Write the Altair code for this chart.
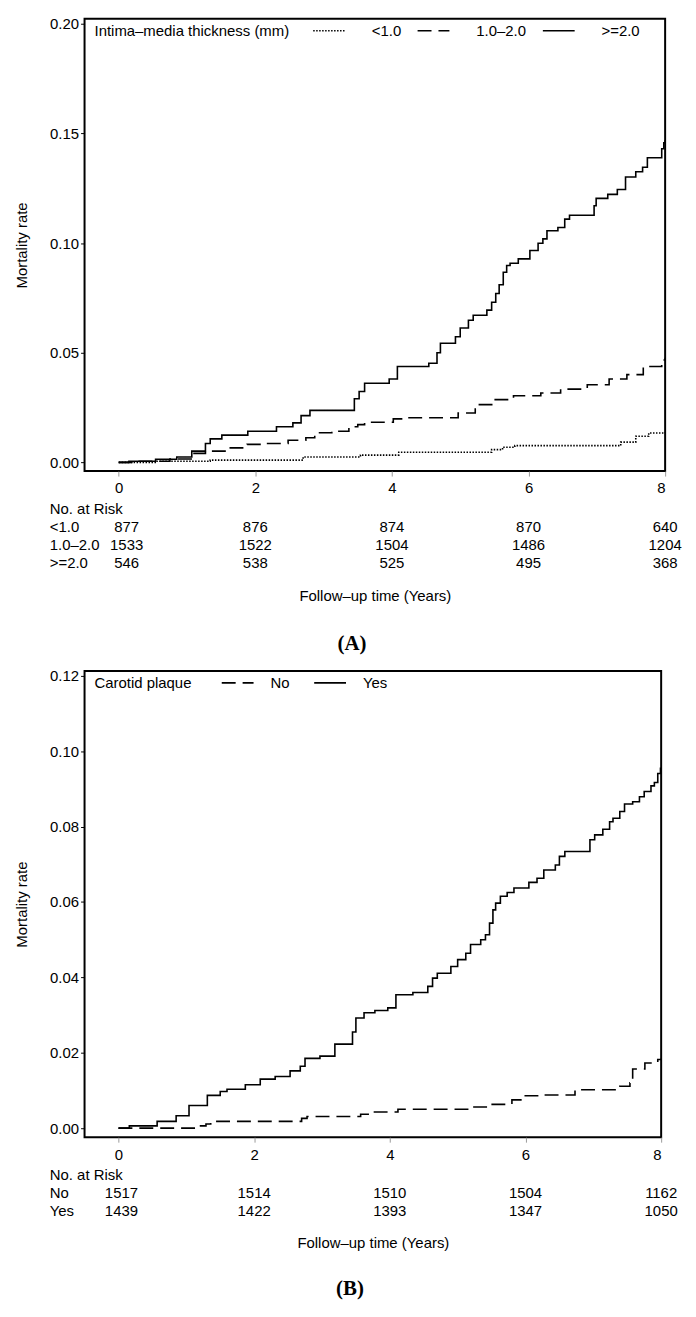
import altair as alt
import pandas as pd

FONT = "Liberation Sans"

# ---------------- Panel A: intima-media thickness ----------------
low_t = [0, 0.56, 1.34, 2.70, 3.54, 4.10, 5.46, 5.62, 5.80, 7.35, 7.57, 7.76, 8.00]
low_v = [0, 0.0005, 0.0010, 0.0024, 0.0033, 0.0046, 0.0058, 0.0069, 0.0076, 0.0092, 0.0119, 0.0134, 0.0136]

mid_t = [0, 0.30, 0.75, 1.09, 1.27, 1.58, 1.88, 2.18, 2.48, 2.74, 2.87, 3.12, 3.37, 3.50, 3.60,
         4.02, 4.20, 4.97, 5.22, 5.48, 5.78, 6.18, 6.47, 6.86, 7.18, 7.44, 7.68, 7.95, 8.00]
mid_v = [0, 0.0005, 0.0015, 0.0041, 0.0051, 0.0066, 0.0082, 0.0086, 0.0101, 0.0112, 0.0135, 0.0142,
         0.0162, 0.0172, 0.0183, 0.0198, 0.0203, 0.0225, 0.0263, 0.0286, 0.0304, 0.0316, 0.0334,
         0.0354, 0.0380, 0.0400, 0.0437, 0.0467, 0.0477]

ge2_t = [0, 0.15, 0.54, 0.85, 1.07, 1.27, 1.34, 1.51, 1.89, 2.31, 2.55, 2.67, 2.80, 3.45, 3.52,
         3.60, 3.96, 4.08, 4.54, 4.66, 4.71, 4.93, 5.00, 5.12, 5.19, 5.39, 5.46, 5.52, 5.57, 5.63,
         5.68, 5.73, 5.85, 6.02, 6.14, 6.21, 6.27, 6.43, 6.53, 6.60, 6.96, 6.99, 7.16, 7.30, 7.42,
         7.57, 7.67, 7.74, 7.95, 7.98, 8.00]
ge2_v = [0, 0.0005, 0.0014, 0.0024, 0.0051, 0.0086, 0.0107, 0.0124, 0.0142, 0.0162, 0.0180, 0.0213,
         0.0237, 0.0290, 0.0323, 0.0361, 0.0380, 0.0437, 0.0452, 0.0500, 0.0543, 0.0573, 0.0613,
         0.0648, 0.0671, 0.0694, 0.0730, 0.0770, 0.0810, 0.0867, 0.0898, 0.0908, 0.0928, 0.0966,
         0.0999, 0.1019, 0.1056, 0.1071, 0.1109, 0.1127, 0.1170, 0.1204, 0.1222, 0.1244, 0.1301,
         0.1325, 0.1346, 0.1389, 0.1430, 0.1457, 0.1470]

groups_a = ["<1.0", "1.0–2.0", ">=2.0"]
risk_a = [[877, 876, 874, 870, 640],
          [1533, 1522, 1504, 1486, 1204],
          [546, 538, 525, 495, 368]]
yticks_a = [0.00, 0.05, 0.10, 0.15, 0.20]

# ---------------- Panel B: carotid plaque ----------------
no_t = [0, 1.21, 1.29, 1.36, 2.70, 2.78, 3.57, 3.72, 4.12, 5.17, 5.48, 5.80, 5.97, 6.20, 6.73,
        7.39, 7.54, 7.58, 7.76, 7.95, 8.00]
no_v = [0, 0.0006, 0.0011, 0.0018, 0.0026, 0.0031, 0.0037, 0.0043, 0.0050, 0.0056, 0.0063,
        0.0075, 0.0086, 0.0088, 0.0102, 0.0111, 0.0120, 0.0157, 0.0173, 0.0182, 0.0185]

yes_t = [0, 0.16, 0.57, 0.85, 1.04, 1.31, 1.50, 1.60, 1.87, 2.09, 2.31, 2.53, 2.68, 2.75, 2.97,
         3.19, 3.45, 3.50, 3.62, 3.78, 3.97, 4.09, 4.34, 4.56, 4.63, 4.70, 4.90, 5.00, 5.12, 5.19,
         5.34, 5.41, 5.47, 5.52, 5.56, 5.63, 5.73, 5.83, 6.05, 6.17, 6.27, 6.44, 6.50, 6.58, 6.95,
         7.02, 7.14, 7.24, 7.29, 7.39, 7.46, 7.58, 7.68, 7.75, 7.85, 7.90, 7.95, 7.99, 8.00]
yes_v = [0, 0.0006, 0.0018, 0.0033, 0.0060, 0.0087, 0.0097, 0.0103, 0.0115, 0.0130, 0.0137,
         0.0152, 0.0164, 0.0185, 0.0191, 0.0223, 0.0255, 0.0292, 0.0306, 0.0312, 0.0319, 0.0354,
         0.0360, 0.0376, 0.0398, 0.0411, 0.0429, 0.0447, 0.0464, 0.0487, 0.0500, 0.0513, 0.0544,
         0.0579, 0.0597, 0.0615, 0.0625, 0.0637, 0.0652, 0.0663, 0.0685, 0.0698, 0.0721, 0.0734,
         0.0765, 0.0778, 0.0793, 0.0813, 0.0822, 0.0840, 0.0860, 0.0866, 0.0879, 0.0893, 0.0908,
         0.0917, 0.0941, 0.0955, 0.0955]

groups_b = ["No", "Yes"]
risk_b = [[1517, 1514, 1510, 1504, 1162],
          [1439, 1422, 1393, 1347, 1050]]
yticks_b = [0.00, 0.02, 0.04, 0.06, 0.08, 0.10, 0.12]

risk_times = [0, 2, 4, 6, 8]

DOT = [1.5, 1.5]
DASH = [14, 7]
SOLID = [1, 0]


def txt(**kw):
    base = dict(fontSize=15, font=FONT, color="black", baseline="middle")
    base.update(kw)
    return base


def panel(curves, field, legend_title, dashes, legend_x, label_offset, col_pad, risk, width,
          height, ydom, yticks, dx0, title_pad, tag, tag_offset):
    names = [c[0] for c in curves]
    recs = []
    for name, ts, vs in curves:
        for t, v in zip(ts, vs):
            recs.append({"t": t, "v": v, field: name})
    df = pd.DataFrame(recs)

    x = alt.X("t:Q",
              scale=alt.Scale(domain=[-0.5, 8], nice=False, zero=False),
              axis=alt.Axis(values=risk_times, title="Follow–up time (Years)",
                            titlePadding=title_pad, tickSize=5, tickColor="#9a9a9a",
                            tickWidth=1, labelPadding=5, domain=False, grid=False,
                            labelFontSize=15, titleFontSize=15, titleFontWeight="normal",
                            labelColor="black", titleColor="black", labelFont=FONT,
                            titleFont=FONT))
    y = alt.Y("v:Q",
              scale=alt.Scale(domain=ydom, nice=False, zero=False),
              axis=alt.Axis(values=yticks, format=".2f", title="Mortality rate",
                            titlePadding=20, tickSize=4, tickColor="black", tickWidth=1,
                            labelPadding=2, domain=False, grid=False, labelFontSize=15,
                            titleFontSize=15, titleFontWeight="normal", labelColor="black",
                            titleColor="black", labelFont=FONT, titleFont=FONT))

    lines = alt.Chart(df).mark_line(interpolate="step-after", color="black",
                                    strokeWidth=1.6).encode(
        x=x, y=y,
        strokeDash=alt.StrokeDash(
            f"{field}:N", sort=names,
            scale=alt.Scale(domain=names, range=dashes),
            legend=alt.Legend(orient="none", legendX=legend_x, legendY=-5,
                              direction="horizontal", title=None, labelFontSize=15,
                              labelFont=FONT, labelColor="black", symbolType="stroke",
                              symbolSize=1024, symbolStrokeWidth=1.6,
                              symbolStrokeColor="black", labelOffset=label_offset,
                              columnPadding=col_pad, padding=0)))

    layers = [lines]
    ltitle = pd.DataFrame({"lab": [legend_title]})
    layers.append(alt.Chart(ltitle).mark_text(**txt(align="left")).encode(
        x=alt.value(10), y=alt.value(12), text="lab:N"))
    header = pd.DataFrame({"lab": ["No. at Risk"]})
    layers.append(alt.Chart(header).mark_text(**txt(align="left")).encode(
        x=alt.value(-35), y=alt.value(height + 38), text="lab:N"))
    for i, (name, counts) in enumerate(zip(names, risk)):
        yy = height + 56 + 18 * i
        lab = pd.DataFrame({"lab": [name]})
        layers.append(alt.Chart(lab).mark_text(**txt(align="left")).encode(
            x=alt.value(-35), y=alt.value(yy), text="lab:N"))
        rdf = pd.DataFrame({"t": risk_times, "n": [str(c) for c in counts]})
        layers.append(alt.Chart(rdf).transform_filter("datum.t == 0").mark_text(
            **txt(align="center", dx=dx0)).encode(x=x, y=alt.value(yy), text="n:N"))
        layers.append(alt.Chart(rdf).transform_filter("datum.t > 0").mark_text(
            **txt(align="center")).encode(x=x, y=alt.value(yy), text="n:N"))

    return alt.layer(*layers).properties(
        width=width, height=height,
        title=alt.TitleParams(tag, orient="bottom", font="Liberation Serif", fontSize=21,
                              fontWeight="bold", offset=tag_offset, anchor="middle",
                              frame="group", dx=-23, color="black"))


pa = panel([("<1.0", low_t, low_v), ("1.0–2.0", mid_t, mid_v), (">=2.0", ge2_t, ge2_v)],
           "imt", "Intima–media thickness (mm)", [DOT, DASH, SOLID], 229, 26, 12, risk_a,
           584, 455, [-0.004, 0.2023], yticks_a, 8, 93, "(A)", 30)
pb = panel([("No", no_t, no_v), ("Yes", yes_t, yes_v)],
           "plaque", "Carotid plaque", [DASH, SOLID], 137, 16, 20, risk_b,
           580, 469, [-0.0024, 0.1213], yticks_b, 3, 74, "(B)", 28)

chart = alt.vconcat(pa, pb, spacing=10).resolve_scale(strokeDash="independent").configure(
    font=FONT, padding={"left": 5, "top": 1, "right": 5, "bottom": 5}).configure_view(
    stroke="black", strokeWidth=2)

chart.save("out.html", embed_options={"renderer": "svg", "actions": False})
